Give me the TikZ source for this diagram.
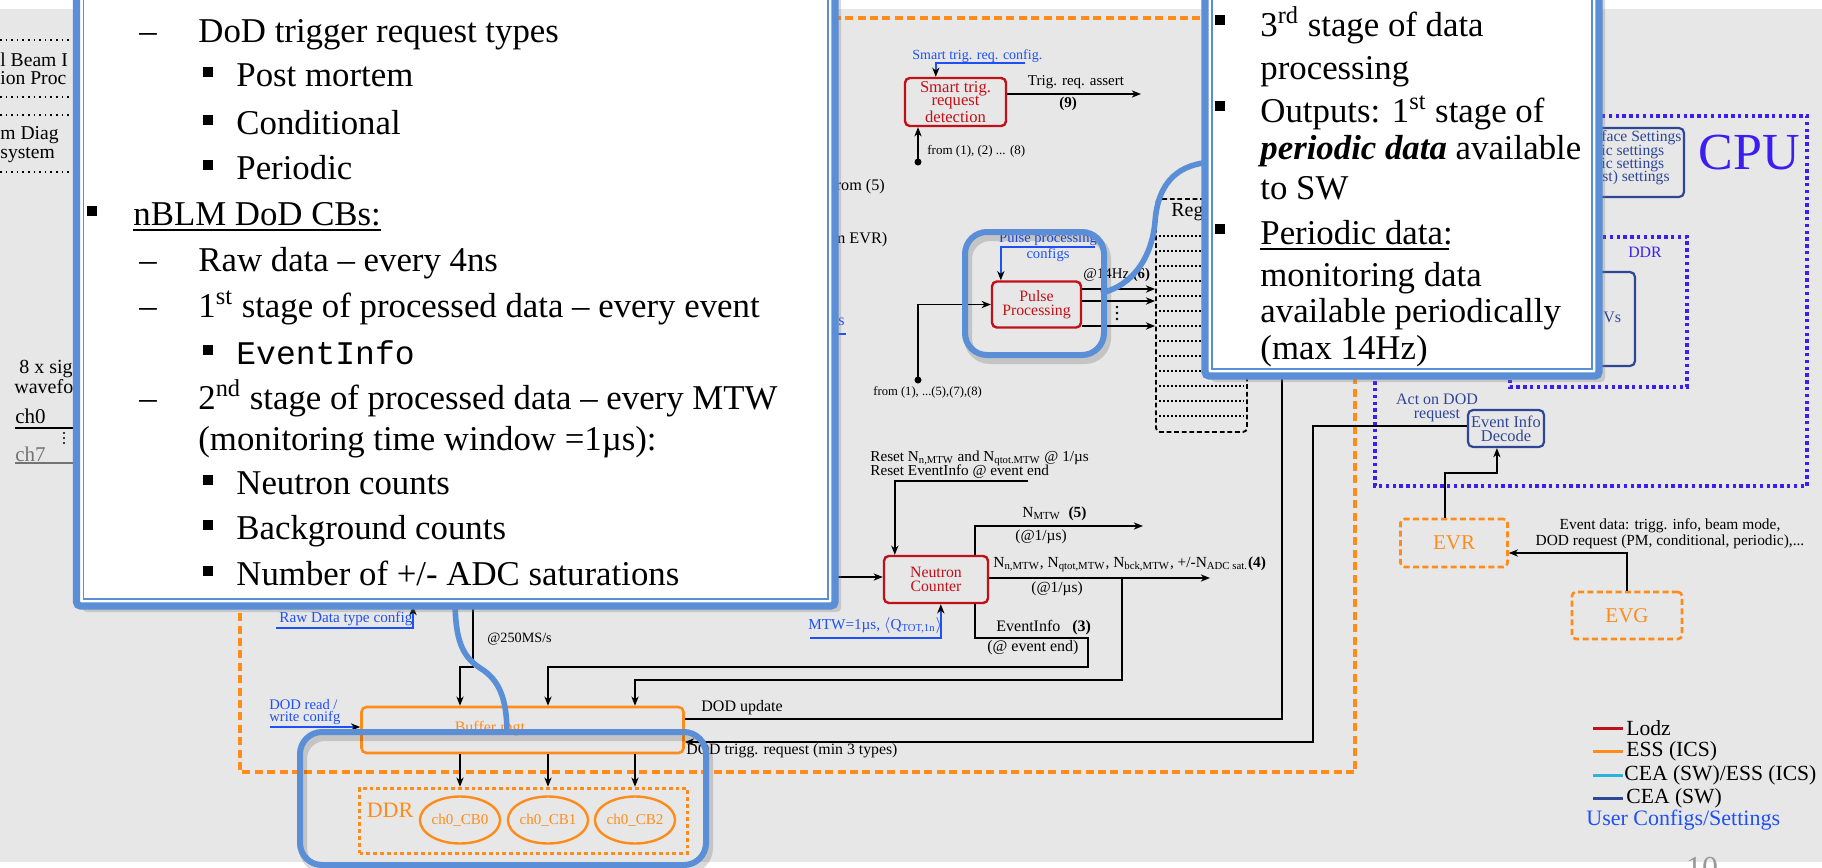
\documentclass[tikz,border=0pt]{standalone}
\usepackage{fontspec}
\setmainfont{Liberation Serif}
\setmonofont{Liberation Mono}
\usetikzlibrary{arrows.meta,shapes.geometric,shadows,calc}
\definecolor{bgc}{RGB}{231,231,231}
\definecolor{lodzc}{RGB}{192,16,24}
\definecolor{essc}{RGB}{255,140,26}
\definecolor{cfgc}{RGB}{30,80,245}
\definecolor{cpuc}{RGB}{60,30,240}
\definecolor{ceac}{RGB}{45,70,150}
\definecolor{cyanc}{RGB}{40,180,220}
\definecolor{callc}{RGB}{90,142,214}
\newcommand{\myfs}[1]{\fontsize{#1}{#1}\selectfont}
\newcommand{\cfont}{\fontsize{17.4}{20}\selectfont}
\begin{document}
\begin{tikzpicture}[x=0.5pt,y=-0.5pt,
  lab/.style={inner sep=0pt, font=\myfs{7.7}},
  cfgt/.style={lab, text=cfgc},
  lodzbox/.style={draw=lodzc, line width=1.2pt, rounded corners=2.4pt, text=lodzc, align=center, inner sep=0pt, font=\fontsize{7.9}{6.9}\selectfont},
  ceabox/.style={draw=ceac, line width=1.1pt, rounded corners=2.5pt, align=center, inner sep=0pt, text=ceac},
  essbox/.style={draw=essc, line width=1.3pt, rounded corners=2.5pt, inner sep=0pt},
  essdot/.style={draw=essc, line width=1.8pt, dash pattern=on 1.9pt off 1.5pt, inner sep=0pt},
  essdash/.style={draw=essc, line width=2pt, dash pattern=on 4pt off 2.2pt},
  essdashb/.style={draw=essc, line width=1.3pt, dash pattern=on 3pt off 1.7pt, rounded corners=2pt, inner sep=0pt},
  cpudot/.style={draw=cpuc, line width=1.8pt, dash pattern=on 1.7pt off 1.7pt},
  cbell/.style={ellipse, draw=essc, line width=1.2pt, text=essc, inner sep=0pt, minimum width=33.5pt, minimum height=23.5pt, font=\myfs{7.5}},
  regbox/.style={draw=black, line width=0.9pt, dash pattern=on 2.4pt off 1.4pt, rounded corners=2pt, inner sep=0pt},
  regrow/.style={draw=black, line width=0.9pt, dash pattern=on 1pt off 1pt},
  conn/.style={line width=0.8pt, -{Stealth[length=4.6pt,width=3.6pt,inset=1.4pt]}},
  wire/.style={line width=0.8pt},
  cfgl/.style={draw=cfgc, line width=0.8pt, -{Stealth[length=4.6pt,width=3.6pt,inset=1.4pt,black]}},
  hl/.style={draw=callc, line width=3pt, rounded corners=11pt},
  hlsh/.style={draw=black, opacity=0.15, line width=4pt, rounded corners=11pt},
  hlc/.style={draw=callc, line width=2.8pt},
  ct/.style={inner sep=0pt, font=\cfont, anchor=base west},
  legl/.style={line width=1.5pt},
  legt/.style={inner sep=0pt, font=\myfs{10.8}, anchor=west}
]
\useasboundingbox (0,0) rectangle (1822,868);
\begin{scope}
\clip (0,0) rectangle (1822,868);
\fill[bgc] (0,9) rectangle (1822,862);

% page number
\node[text=black!40, font=\myfs{16}, anchor=base, inner sep=0pt] (pg) at (1702,878) {10};

% left fragments
\foreach \y in {40,97,115,172} \draw[dotted, line width=0.8pt] (0,\y) -- (80,\y);
\node[lab, font=\myfs{9.8}, anchor=west] (f1) at (0,60) {l Beam I};
\node[lab, font=\myfs{9.8}, anchor=west] (f2) at (0,78) {ion Proc};
\node[lab, font=\myfs{9.8}, anchor=west] (f3) at (0,135) {m Diag};
\node[lab, font=\myfs{9.8}, anchor=west] (f4) at (0,155) {system};
\node[lab, font=\myfs{10}, anchor=west] (s1) at (19,369) {8 x sig};
\node[lab, font=\myfs{10}, anchor=west] (s2) at (14,387) {wavefo};
\node[lab, font=\myfs{10.5}, anchor=west] (c0) at (15,416) {ch0};
\draw[wire] ($(c0.west)+(0,12)$) -- ++(70,0);
\node[lab, font=\myfs{10.5}, anchor=west, text=black!55] (c7) at (15,454) {ch7};
\draw[wire, black!55] ($(c7.west)+(0,9)$) -- ++(70,0);
\foreach \y in {433,438,443} \fill (64,\y) circle (1.1);

% big orange box
\draw[essdash] (240,18) rectangle (1355,772);

% fragments next to the left callout
\node[lab, font=\myfs{8.1}, anchor=west] (fr5) at (830,187) {from (5)};
\node[lab, font=\myfs{8.1}, anchor=west] (frevr) at (827,240) {rm EVR)};
\node[cfgt, font=\myfs{8}, anchor=west] (sfr) at (838,322) {s};
\draw[cfgc, line width=0.8pt] ($(sfr.west)+(-18,12)$) -- ++(26,0);

% smart trigger
\node[lodzbox, font=\fontsize{8.3}{6.8}\selectfont, minimum width=50.5pt, minimum height=24pt] (stq) at (955.5,102) {Smart trig.\\request\\detection};
\node[cfgt, font=\myfs{7}, anchor=west] (stqc) at (912,56) {Smart trig. req. config.};
\coordinate (stqcR) at (1025,63);
\draw[cfgl] (stqcR) -| ($(stq.north west)+(32,0)$);
\coordinate (trigE) at (1141,94);
\draw[conn] (stq.east |- trigE) -- (trigE);
\node[lab, font=\myfs{7.5}] (tra) at (1076,82) {Trig. req. assert};
\node[lab, font={\bfseries\myfs{7.5}}] (n9) at (1068,104) {(9)};
\coordinate (stqin) at (918,162);
\fill (stqin) circle (3.5);
\draw[conn] (stqin) -- (stqin |- stq.south);
\node[lab, font=\myfs{6.5}, anchor=west] (stqf) at (927,151) {from (1), (2) ... (8)};

% pulse processing
\node[lodzbox, minimum width=44.5pt, minimum height=23pt] (pp) at (1036.5,304.5) {Pulse\\Processing};
\node[cfgt, font=\fontsize{7.3}{6}\selectfont, align=center] (ppc) at (1048,247) {Pulse processing\\configs};
\coordinate (ppcR) at (1095,247);
\draw[cfgl] (ppcR) -| ($(pp.north west)+(10,0)$);
\coordinate (ppin) at (918,380);
\fill (ppin) circle (3.5);
\draw[conn] (ppin) |- (pp.west);
\node[lab, font=\myfs{6.3}, anchor=west] (ppf) at (873,392) {from (1), ...(5),(7),(8)};

% registers
\node[regbox, minimum width=45.5pt, minimum height=116.5pt] (reg) at (1201.5,315.5) {};
\foreach \y in {236,251,...,416} \draw[regrow] (1159,\y) -- (1244,\y);
\node[lab, font=\myfs{10}, anchor=west] (regt) at (1171,212) {Reg};
\coordinate (o1) at (0,289);
\coordinate (o2) at (0,301);
\coordinate (o3) at (0,326);
\draw[conn] (pp.east |- o1) -- (reg.west |- o1);
\draw[conn] (pp.east |- o2) -- (reg.west |- o2);
\draw[conn] (pp.east |- o3) -- (reg.west |- o3);
\foreach \y in {307,313,319} \fill (1117,\y) circle (1.3);
\node[lab, font=\myfs{7.4}, anchor=west] (hz) at (1083,275) {@14Hz \textbf{(6)}};

% buffer and DDR
\node[essbox, minimum width=161pt, minimum height=23pt] (buf) at (522.5,730) {};
\node[lab, text=essc, font=\myfs{8}] (buft) at (490,729) {Buffer mgt};
\node[essdot, minimum width=164pt, minimum height=32.5pt] (ddr) at (523.5,821) {};
\node[lab, text=essc, font=\myfs{11}] (ddrt) at (390,810) {DDR};
\node[cbell] (cb0) at (460,820) {ch0\_CB0};
\node[cbell] (cb1) at (548,820) {ch0\_CB1};
\node[cbell] (cb2) at (635,820) {ch0\_CB2};
\foreach \c in {cb0,cb1,cb2} \draw[conn] (\c.north |- buf.south) -- (\c.north |- ddr.north);

% neutron counter
\node[lodzbox, minimum width=52pt, minimum height=23.5pt] (nc) at (936,579.5) {Neutron\\Counter};
\coordinate (ncinL) at (830,577);
\draw[conn] (ncinL) -- (nc.west |- ncinL);
\node[lab, font=\myfs{7.6}, anchor=west] (rst1) at (870,458) {Reset N\textsubscript{n,MTW} and N\textsubscript{qtot.MTW} @ 1/µs};
\node[lab, font=\myfs{7.6}, anchor=west] (rst2) at (870,472) {Reset EventInfo @ event end};
\coordinate (rstR) at (1028,481);
\draw[conn] (rstR) -| ($(nc.north west)+(12,0)$);
\node[cfgt, font=\myfs{7.6}, anchor=west] (mtw) at (808,625) {MTW=1µs, $\langle$Q\textsubscript{TOT,1n}$\rangle$};
\coordinate (mtwL) at (810,638);
\draw[cfgl] (mtwL) -| ($(nc.south west)+(58,0)$);
\coordinate (n5E) at (1143,526);
\draw[conn] ($(nc.north west)+(92,0)$) |- (n5E);
\node[lab, anchor=west] (n5l) at (1022,514) {N\textsubscript{MTW} \ \textbf{(5)}};
\node[lab, anchor=west] (n5r) at (1015,537) {(@1/µs)};
\coordinate (n4E) at (1210,578);
\draw[conn] (nc.east |- n4E) -- (n4E);
\node[lab, anchor=west] (n4l) at (993,564) {N\textsubscript{n,MTW}, N\textsubscript{qtot,MTW}, N\textsubscript{bck,MTW}, +/-N\textsubscript{ADC sat.}\textbf{(4)}};
\node[lab, anchor=west] (n4r) at (1031,589) {(@1/µs)};
\coordinate (e3a) at (1088,638);
\coordinate (e3b) at (1088,667);
\draw[conn] ($(nc.south west)+(92,0)$) |- (e3a) -- (e3b) -| (cb1.north |- buf.north);
\node[lab, font=\myfs{8}, anchor=west] (e3l) at (996,628) {EventInfo\hspace{6pt}\textbf{(3)}};
\node[lab, font=\myfs{8}, anchor=west] (e3r) at (987,648) {(@ event end)};
\coordinate (n4b) at (1122,578);
\coordinate (n4c) at (1122,680);
\draw[conn] (n4b) -- (n4c) -| (cb2.north |- buf.north);
\coordinate (rawT) at (473,600);
\coordinate (rawJ) at (473,667);
\draw[conn] (rawT) -- (rawJ) -| (cb0.north |- buf.north);
\node[lab, font=\myfs{7.1}, anchor=west] (r250) at (487,639) {@250MS/s};
\node[cfgt, font=\myfs{7.6}, anchor=west] (rdc) at (279,619) {Raw Data type config};
\coordinate (rdcL) at (276,628);
\coordinate (rdcT) at (413,606);
\draw[cfgl] (rdcL) -| (rdcT);
\node[cfgt, font=\fontsize{7.3}{6}\selectfont, align=left, anchor=west] (dodrw) at (269,712) {DOD read /\\write conifg};
\coordinate (dodrwL) at (270,727);
\draw[cfgl] (dodrwL) -- (buf.west |- dodrwL);

% DOD update
\coordinate (updT) at (1282,370);
\coordinate (upd) at (1282,719);
\draw[wire] (updT) -- (upd) -- (buf.east |- upd);
\node[lab, font=\myfs{8}, anchor=west] (updl) at (701,708) {DOD update};

% CPU side
\draw[cpudot] (1375,116) rectangle (1807,486);
\node[lab, text=cpuc, font=\myfs{26}] (cput) at (1749,153) {CPU};
\node[ceabox, minimum width=62pt, minimum height=34.5pt] (ifs) at (1622,162.5) {};
\node[lab, text=ceac, font=\myfs{7.8}, anchor=west] (ifs1) at (1601,138) {face Settings};
\node[lab, text=ceac, font=\myfs{7.8}, anchor=west] (ifs2) at (1601,152) {ic settings};
\node[lab, text=ceac, font=\myfs{7.8}, anchor=west] (ifs3) at (1601,165) {ic settings};
\node[lab, text=ceac, font=\myfs{7.8}, anchor=west] (ifs4) at (1602,178) {st) settings};
\draw[cpudot] (1510,237) rectangle (1687,387);
\node[lab, text=cpuc, font=\myfs{7.9}] (cddr) at (1645,252) {DDR};
\node[ceabox, minimum width=40pt, minimum height=47pt] (pvs) at (1595,319) {};
\node[lab, text=ceac, font=\myfs{8}, anchor=west] (pvst) at (1603,317) {Vs};
\node[ceabox, font=\fontsize{8.2}{7}\selectfont, minimum width=38pt, minimum height=18.5pt] (eid) at (1506,428.5) {Event Info\\Decode};
\node[lab, text=ceac, font=\fontsize{8}{7}\selectfont, align=center] (act) at (1437,408) {Act on DOD\\request};
\coordinate (trgA) at (1313,426);
\coordinate (trgB) at (1313,742);
\draw[conn] (eid.west |- trgA) -- (trgA) -- (trgB) -- (buf.east |- trgB);
\node[lab, font=\myfs{7.9}, anchor=west] (trgl) at (686,751) {DOD trigg. request (min 3 types)};

\node[essdashb, minimum width=53.5pt, minimum height=24pt, text=essc, font=\myfs{10.5}] (evr) at (1454,543) {EVR};
\node[essdashb, minimum width=55pt, minimum height=23.5pt, text=essc, font=\myfs{10.5}] (evg) at (1627,615.5) {EVG};
\draw[conn] ($(evr.north west)+(46,0)$) |- ($(eid.south west)+(30,25)$) -- ($(eid.south west)+(30,0)$);
\draw[conn] (evg.north) |- ($(evr.east)+(0,10)$);
\node[lab, font=\fontsize{7.7}{7}\selectfont, align=center] (evd) at (1670,534) {Event data: trigg. info, beam mode,\\DOD request (PM, conditional, periodic),...};

% legend
\draw[legl, lodzc] (1593,728) -- (1623,728);
\node[legt] (lg1) at (1626,728) {Lodz};
\draw[legl, essc] (1593,751) -- (1623,751);
\node[legt] (lg2) at (1626,751) {ESS (ICS)};
\draw[legl, cyanc] (1593,775) -- (1623,775);
\node[legt] (lg3) at (1624,775) {CEA (SW)/ESS (ICS)};
\draw[legl, ceac] (1593,798) -- (1623,798);
\node[legt] (lg4) at (1626,798) {CEA (SW)};
\node[legt, text=cfgc, font=\myfs{11}] (lg5) at (1586,820) {User Configs/Settings};

% highlights
\draw[hlsh, shift={(3,5)}] (965,232) rectangle (1104,355);
\draw[hl] (965,232) rectangle (1104,355);
\draw[hlsh, shift={(3,5)}] (300,732) rectangle (706,865);
\draw[hl] (300,732) rectangle (706,865);
\draw[hlc] (1101,293) .. controls (1135,285) and (1152,255) .. (1155,222) .. controls (1158,180) and (1180,164) .. (1212,162);
\draw[hlc] (507,734) .. controls (507,700) and (500,680) .. (480,668) .. controls (462,656) and (455,640) .. (455,598);

% left callout
\path[fill=white, rounded corners=2pt, drop shadow={shadow xshift=3pt, shadow yshift=-3pt, opacity=0.3}] (76.5,-20) rectangle (835,606);
\draw[callc, line width=3.6pt, rounded corners=2pt] (76.5,-20) rectangle (835,606);
\draw[callc, line width=0.6pt] (83.5,-20) rectangle (828,599);
\node[ct] (d1) at (139,42) {–};
\node[ct] (l1) at (198,42) {DoD trigger request types};
\fill (203,67) rectangle (213,77);
\node[ct] (l2) at (236,86) {Post mortem};
\fill (203,115) rectangle (213,125);
\node[ct] (l3) at (236,134) {Conditional};
\fill (203,160) rectangle (213,170);
\node[ct] (l4) at (236,179) {Periodic};
\fill (87,206) rectangle (97,216);
\node[ct] (l5) at (133,225) {nBLM DoD CBs:};
\draw[line width=1.3pt] ($(l5.base west)+(0,5)$) -- ($(l5.base east)+(0,5)$);
\node[ct] (d2) at (139,271) {–};
\node[ct] (l6) at (198,271) {Raw data – every 4ns};
\node[ct] (d3) at (139,317) {–};
\node[ct] (l7) at (198,317) {1\textsuperscript{st} stage of processed data – every event};
\fill (203,345) rectangle (213,355);
\node[ct, font={\ttfamily\fontsize{16.5}{20}\selectfont}] (l8) at (236,364) {EventInfo};
\node[ct] (d4) at (139,409) {–};
\node[ct] (l9) at (198,409) {2\textsuperscript{nd} stage of processed data – every MTW};
\node[ct] (l10) at (198,450) {(monitoring time window =1µs):};
\fill (203,475) rectangle (213,485);
\node[ct] (l11) at (236,494) {Neutron counts};
\fill (203,520) rectangle (213,530);
\node[ct] (l12) at (236,539) {Background counts};
\fill (203,566) rectangle (213,576);
\node[ct] (l13) at (236,585) {Number of +/- ADC saturations};

% right callout
\path[fill=white, rounded corners=2pt, drop shadow={shadow xshift=3pt, shadow yshift=-3pt, opacity=0.3}] (1205,-20) rectangle (1599,376);
\draw[callc, line width=3.6pt, rounded corners=2pt] (1205,-20) rectangle (1599,376);
\draw[callc, line width=0.6pt] (1212,-20) rectangle (1592,369);
\fill (1215,15) rectangle (1225,25);
\node[ct] (r1) at (1260,36) {3\textsuperscript{rd} stage of data};
\node[ct] (r2) at (1260,79) {processing};
\fill (1215,101) rectangle (1225,111);
\node[ct] (r3) at (1260,122) {Outputs: 1\textsuperscript{st} stage of};
\node[ct] (r4) at (1260,159) {\textbf{\textit{periodic data}} available};
\node[ct] (r5) at (1260,199) {to SW};
\fill (1215,224) rectangle (1225,234);
\node[ct] (r6) at (1260,244) {Periodic data:};
\draw[line width=1.3pt] ($(r6.base west)+(0,5)$) -- ($(r6.base east)+(-4,5)$);
\node[ct] (r7) at (1260,286) {monitoring data};
\node[ct] (r8) at (1260,322) {available periodically};
\node[ct] (r9) at (1260,359) {(max 14Hz)};
\end{scope}
\end{tikzpicture}
\end{document}
